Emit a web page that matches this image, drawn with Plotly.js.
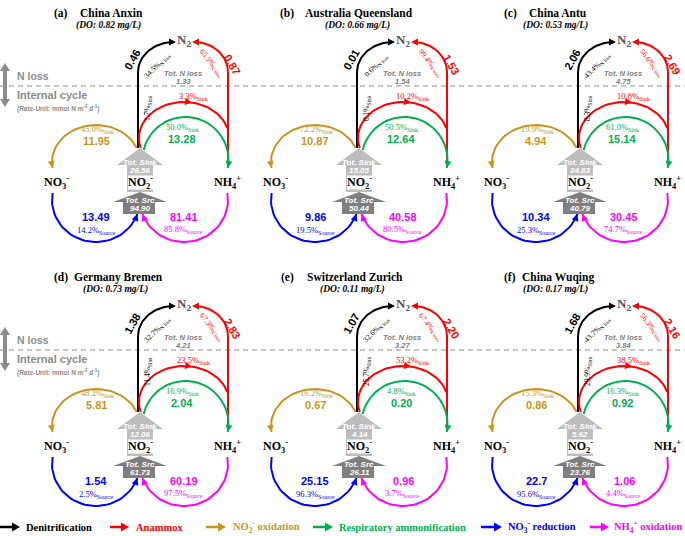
<!DOCTYPE html>
<html><head><meta charset="utf-8">
<script src="https://cdn.plot.ly/plotly-3.0.1.min.js"></script>
<style>body{margin:0;background:#fff}#chart{width:685px;height:536px}</style>
</head><body><div id="chart"></div>
<script>
// ---------------- DATA ----------------
const panelLabels = ['(a)','(b)','(c)','(d)','(e)','(f)'];
const panelNames = ['China Anxin','Australia Queensland','China Antu','Germany Bremen','Switzerland Zurich','China Wuqing'];
const doValues = ['0.82','0.66','0.53','0.73','0.11','0.17'];
const denit = ['0.46','0.01','2.06','1.38','1.07','1.68'];
const denitPctLoss = ['34.5','0.6','43.4','32.7','32.6','43.7'];
const denitPctSink = ['1.7','0.1','8.3','11.4','25.7','29.9'];
const anammox = ['0.87','1.53','2.69','2.83','2.20','2.16'];
const anammoxPctLoss = ['65.5','99.4','56.6','67.3','67.4','56.3'];
const anammoxPctSink = ['3.3','10.2','10.8','23.5','53.2','38.5'];
const totNLoss = ['1.33','1.54','4.75','4.21','3.27','3.84'];
const no2Ox = ['11.95','10.87','4.94','5.81','0.67','0.86'];
const no2OxPct = ['45.0','72.2','19.9','48.2','16.2','15.3'];
const respAmm = ['13.28','12.64','15.14','2.04','0.20','0.92'];
const respAmmPct = ['50.0','50.5','61.0','16.9','4.8','16.3'];
const no3Red = ['13.49','9.86','10.34','1.54','25.15','22.7'];
const no3RedPct = ['14.2','19.5','25.3','2.5','96.3','95.6'];
const nh4Ox = ['81.41','40.58','30.45','60.19','0.96','1.06'];
const nh4OxPct = ['85.8','80.5','74.7','97.5','3.7','4.4'];
const totSink = ['26.56','15.05','24.83','12.06','4.14','5.62'];
const totSrc = ['94.90','50.44','40.79','61.73','26.11','23.76'];
const legendNames = ['Denitrification','Anammox','NO<sub>2</sub><sup>-</sup> oxidation','Respiratory ammonification','NO<sub>3</sub><sup>-</sup> reduction','NH<sub>4</sub><sup>+</sup> oxidation'];

// ---------------- LAYOUT CONSTANTS ----------------
const colX = [0,219,440], rowY = [0,264];
const titleLabelX = [52,278,502,52,279,502];
const titleNameX = [78,303,527,72,305,520];
const doX = [108,357,555,115,352,555];
const COL = {denit:'#000000', anammox:'#ff0000', no2ox:'#c8961e', resp:'#00b050', no3red:'#0000ff', nh4ox:'#ff00ff'};
const legendColors = [COL.denit,COL.anammox,COL.no2ox,COL.resp,COL.no3red,COL.nh4ox];
const legendArrowX = [[0,20],[110,129],[206,226],[313,333],[481,502],[590,609]];
const legendTextX = [24,134,231,337,506,612];
const SERIF = 'Liberation Serif, Times New Roman, serif';
const SANS = 'Liberation Sans, Arial, sans-serif';
const GRAY = '#808080';

const traces = [], ann = [], shapes = [], heads = [];

function line(xs, ys, color, w){
  traces.push({type:'scatter', mode:'lines', x:xs, y:ys, line:{color:color, width:w||2},
    hoverinfo:'skip', showlegend:false});
}
function arc(cx,cy,rx,ry,t0,t1,n){
  const xs=[],ys=[];
  for(let i=0;i<=n;i++){const t=t0+(t1-t0)*i/n; xs.push(cx+rx*Math.cos(t)); ys.push(cy+ry*Math.sin(t));}
  return [xs,ys];
}
// filled triangular arrowhead at tip (x,y) pointing along (dx,dy)
function head(x,y,dx,dy,color,L,W){
  L=L||7; W=W||3.5;
  const n=Math.hypot(dx,dy), ux=dx/n, uy=dy/n;
  const bx=x-ux*L, by=y-uy*L, px=-uy, py=ux;
  heads.push({type:'path',xref:'x',yref:'y',fillcolor:color,line:{width:0},
    path:`M${x},${y} L${bx+px*W},${by+py*W} L${bx-px*W},${by-py*W} Z`});
}
function txt(x,y,t,size,color,family,angle,xanchor){
  ann.push({x:x,y:y,xref:'x',yref:'y',text:t,showarrow:false,textangle:angle||0,
    xanchor:xanchor||'center',yanchor:'middle',font:{size:size,color:color,family:family}});
}
function arcHead(cx,cy,rx,ry,t,dir,color){
  const x=cx+rx*Math.cos(t), y=cy+ry*Math.sin(t);
  head(x,y,-rx*Math.sin(t)*dir, ry*Math.cos(t)*dir, color);
}

// ---------------- PANELS ----------------
for(let p=0;p<6;p++){
  const ox = colX[p%3], oy = rowY[Math.floor(p/3)];
  const X = v=>v+ox, Y = v=>v+oy;

  // titles
  txt(titleLabelX[p], Y(13), '<b>'+panelLabels[p]+'</b>', 11.5, '#000', SERIF, 0, 'left');
  txt(titleNameX[p], Y(13), '<b>'+panelNames[p]+'</b>', 11.5, '#000', SERIF, 0, 'left');
  txt(doX[p], Y(25), '<b><i>(DO: '+doValues[p]+' mg/L)</i></b>', 9.5, '#000', SERIF);

  // Denitrification (black)
  line([X(138),X(138)],[Y(148),Y(72)],COL.denit);
  let a = arc(X(174),Y(72),36,30,Math.PI,1.5*Math.PI,30);
  line(a[0],a[1],COL.denit);
  head(X(176),Y(42),1,0,COL.denit);

  // Anammox to N2 (red)
  line([X(228),X(228)],[Y(162),Y(72)],COL.anammox);
  a = arc(X(194),Y(72),34,30,0,-0.5*Math.PI,30);
  line(a[0],a[1],COL.anammox);
  head(X(192),Y(42),-1,0,COL.anammox);

  // Anammox sink arc (red)
  const t0r = Math.PI-Math.asin(10/36), t1r = 2*Math.PI-Math.asin(10/36);
  a = arc(X(184),Y(138),45,36,t0r,t1r,40);
  line(a[0],a[1],COL.anammox);
  arcHead(X(184),Y(138),45,36,1.5*Math.PI+0.18,1,COL.anammox);

  // Respiratory ammonification (green)
  const t0g = Math.PI+Math.asin(10/43), t1g = 2*Math.PI+Math.asin(8/43);
  a = arc(X(185.5),Y(160),43,43,t0g,t1g,40);
  line(a[0],a[1],COL.resp);
  arcHead(X(185.5),Y(160),43,43,t1g,1,COL.resp);

  // NO2- oxidation (gold)
  const t0o = -Math.asin(14/37), t1o = -Math.PI-Math.asin(6/37);
  a = arc(X(96),Y(162),44,37,t0o,t1o,40);
  line(a[0],a[1],COL.no2ox);
  arcHead(X(96),Y(162),44,37,t1o,-1,COL.no2ox);

  // NO3- reduction (blue)
  const t0b = Math.PI+Math.asin(7/42), t1b = Math.asin(14/42);
  a = arc(X(96),Y(200),44,42,t0b,t1b,40);
  line(a[0],a[1],COL.no3red);
  arcHead(X(96),Y(200),44,42,t1b,-1,COL.no3red);

  // NH4+ oxidation (magenta)
  const t0m = -Math.asin(7/42), t1m = Math.PI-Math.asin(14/42);
  a = arc(X(184),Y(200),44,42,t0m,t1m,40);
  line(a[0],a[1],COL.nh4ox);
  arcHead(X(184),Y(200),44,42,t1m,1,COL.nh4ox);

  // gray block arrows
  shapes.push({type:'path', xref:'x', yref:'y', fillcolor:'#bdbdbd', line:{width:0},
    path:`M${X(127)},${Y(192)} L${X(127)},${Y(165)} L${X(117)},${Y(165)} L${X(140)},${Y(148)} L${X(163)},${Y(165)} L${X(153)},${Y(165)} L${X(153)},${Y(192)} Z`});
  shapes.push({type:'path', xref:'x', yref:'y', fillcolor:'#7f7f7f', line:{width:0},
    path:`M${X(123)},${Y(214)} L${X(123)},${Y(202)} L${X(113)},${Y(202)} L${X(140)},${Y(192)} L${X(167)},${Y(202)} L${X(155)},${Y(202)} L${X(155)},${Y(214)} Z`});
  shapes.push({type:'rect', xref:'x', yref:'y', x0:X(128), x1:X(153), y0:Y(175.5), y1:Y(189.5),
    fillcolor:'#ffffff', line:{width:0}});
  txt(X(140),Y(162.5),'<b><i>Tot. Sink</i></b>',8,'#ffffff',SANS);
  txt(X(140),Y(170.5),'<b><i>'+totSink[p]+'</i></b>',8,'#ffffff',SANS);
  txt(X(140),Y(200),'<b><i>Tot. Src</i></b>',8,'#ffffff',SANS);
  txt(X(140),Y(208.5),'<b><i>'+totSrc[p]+'</i></b>',8,'#ffffff',SANS);

  // species labels
  txt(X(140),Y(182),'<b>NO<sub>2</sub><sup>-</sup></b>',12,'#000',SERIF);
  txt(X(56),Y(182),'<b>NO<sub>3</sub><sup>-</sup></b>',12,'#000',SERIF);
  txt(X(227),Y(182),'<b>NH<sub>4</sub><sup>+</sup></b>',12,'#000',SERIF);
  txt(X(184),Y(40),'<b>N<sub>2</sub></b>',13,'#555555',SERIF);

  // N loss totals
  txt(X(183),Y(73),'<b><i>Tot. N loss</i></b>',7.5,GRAY,SANS);
  txt(X(183),Y(81),'<b><i>'+totNLoss[p]+'</i></b>',7.5,GRAY,SANS);

  // rate values & percentages
  txt(X(132),Y(60),'<b>'+denit[p]+'</b>',11,COL.denit,SANS,-60);
  txt(X(157),Y(66),denitPctLoss[p]+'%<sub>N loss</sub>',7.5,COL.denit,SERIF,-45);
  txt(X(148),Y(108),denitPctSink[p]+'%<sub>Sink</sub>',7.5,COL.denit,SERIF,-90);
  txt(X(232),Y(64),'<b>'+anammox[p]+'</b>',11,COL.anammox,SANS,60);
  txt(X(211),Y(63),anammoxPctLoss[p]+'%<sub>N loss</sub>',7.5,COL.anammox,SERIF,52);
  txt(X(193),Y(96),anammoxPctSink[p]+'%<sub>Sink</sub>',8.5,COL.anammox,SERIF);
  txt(X(182),Y(127),respAmmPct[p]+'%<sub>Sink</sub>',8.5,COL.resp,SERIF);
  txt(X(182),Y(138.5),'<b>'+respAmm[p]+'</b>',11,COL.resp,SANS);
  txt(X(97),Y(129.5),no2OxPct[p]+'%<sub>Sink</sub>',8.5,COL.no2ox,SERIF);
  txt(X(96),Y(141),'<b>'+no2Ox[p]+'</b>',11,COL.no2ox,SANS);
  txt(X(96),Y(217),'<b>'+no3Red[p]+'</b>',11,COL.no3red,SANS);
  txt(X(96),Y(230),no3RedPct[p]+'%<sub>Source</sub>',8.5,COL.no3red,SERIF);
  txt(X(184),Y(217),'<b>'+nh4Ox[p]+'</b>',11,COL.nh4ox,SANS);
  txt(X(183),Y(229),nh4OxPct[p]+'%<sub>Source</sub>',8.5,COL.nh4ox,SERIF);
}

// ---------------- ROW DECORATIONS ----------------
for(let r=0;r<2;r++){
  const oy=rowY[r];
  shapes.push({type:'line',xref:'x',yref:'y',x0:0,x1:685,y0:86+oy,y1:86+oy,layer:'below',
    line:{color:'#8c8c8c',width:1.2,dash:'5px,4px'}});
  shapes.push({type:'path',xref:'x',yref:'y',fillcolor:'#8c8c8c',line:{width:0},
    path:`M5,${63+oy} L10,${71+oy} L7,${71+oy} L7,${99+oy} L10,${99+oy} L5,${107+oy} L0,${99+oy} L3,${99+oy} L3,${71+oy} L0,${71+oy} Z`});
  txt(15,76+oy,'<b>N loss</b>',10.5,'#8c8c8c',SANS,0,'left');
  txt(15,95+oy,'<b>Internal cycle</b>',11,'#8c8c8c',SANS,0,'left');
  txt(15,108+oy,'<b>(Rate-Unit: mmol N m<sup>-2</sup> d<sup>-1</sup>)</b>',6.5,'#8c8c8c',SANS,0,'left');
}

// ---------------- LEGEND ----------------
for(let i=0;i<6;i++){
  const [x0,x1]=legendArrowX[i];
  shapes.push({type:'line',xref:'x',yref:'y',x0:x0,x1:x1-6,y0:527,y1:527,
    line:{color:legendColors[i],width:2.5}});
  head(x1,527,1,0,legendColors[i],8,4.5);
  txt(legendTextX[i],527,'<b>'+legendNames[i]+'</b>',10.5,legendColors[i],SERIF,0,'left');
}

Plotly.newPlot('chart', traces, {
  width:685, height:536, margin:{l:0,r:0,t:0,b:0},
  paper_bgcolor:'#ffffff', plot_bgcolor:'#ffffff', showlegend:false,
  xaxis:{range:[0,685],visible:false,fixedrange:true},
  yaxis:{range:[536,0],visible:false,fixedrange:true},
  shapes:shapes.concat(heads), annotations:ann
}, {staticPlot:true, displayModeBar:false});
</script>
</body></html>
